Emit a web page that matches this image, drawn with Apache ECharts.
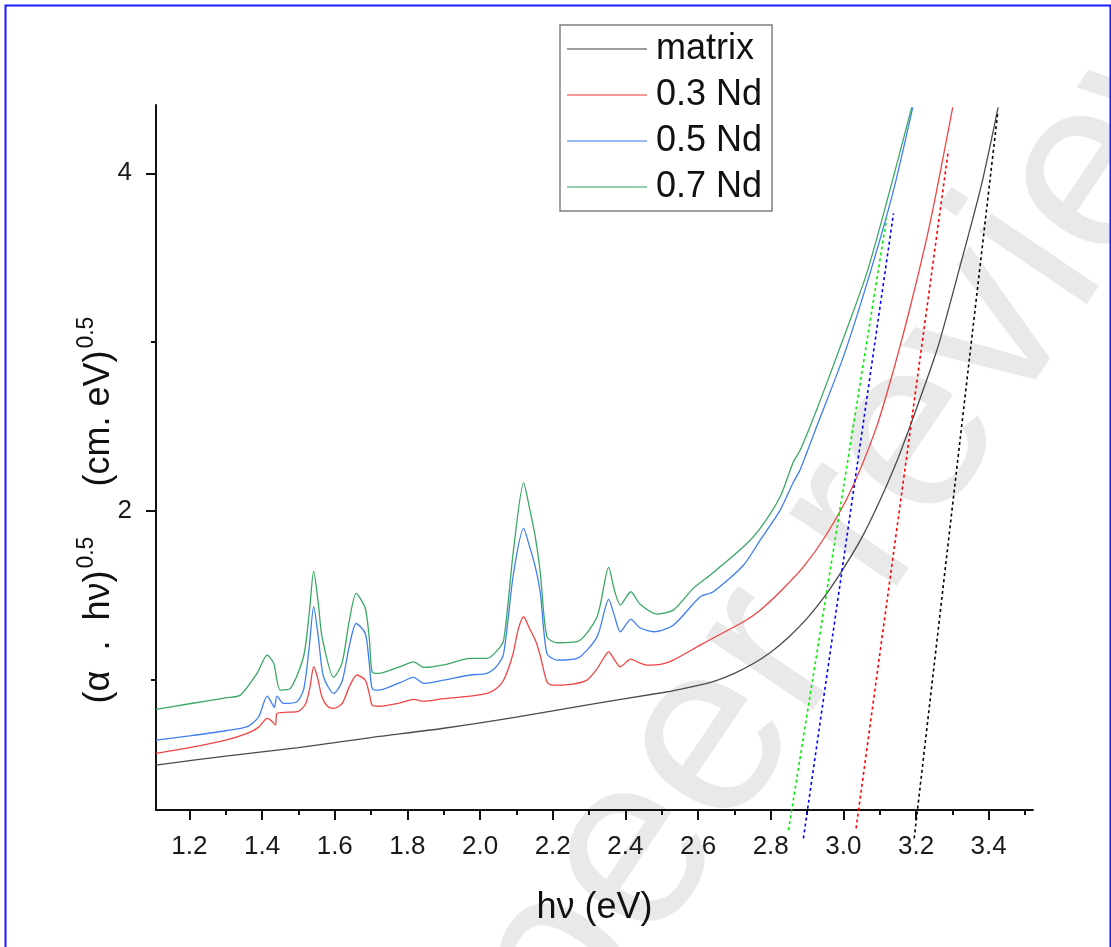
<!DOCTYPE html>
<html>
<head>
<meta charset="utf-8">
<script src="https://cdn.jsdelivr.net/npm/echarts@6/dist/echarts.min.js"></script>
<style>
  html, body { margin: 0; padding: 0; background: #fff; }
  #chart { width: 1111px; height: 947px; }
</style>
</head>
<body>
<div id="chart"></div>
<script>
// photon energy (eV) and (alpha.hv)^0.5
var matrixX = [1.108, 1.3, 1.5, 1.7, 1.9, 2.1, 2.3, 2.5, 2.55, 2.6, 2.65, 2.7, 2.75, 2.8, 2.85, 2.9, 2.95, 3.0, 3.05, 3.1, 3.15, 3.2, 3.26, 3.32, 3.38, 3.426];
var matrixY = [0.497, 0.55, 0.6, 0.66, 0.715, 0.781, 0.855, 0.925, 0.945, 0.968, 0.997, 1.04, 1.095, 1.165, 1.255, 1.365, 1.5, 1.66, 1.84, 2.06, 2.31, 2.6, 2.97, 3.44, 3.93, 4.39];

var nd3X = [1.108, 1.2, 1.3, 1.359, 1.39, 1.414, 1.425, 1.437, 1.441, 1.47, 1.5, 1.52, 1.532, 1.542, 1.552, 1.565, 1.58, 1.597, 1.62, 1.64, 1.661, 1.684, 1.695, 1.703, 1.72, 1.78, 1.817, 1.845, 1.9, 1.973, 2.019, 2.045, 2.065, 2.09, 2.105, 2.12, 2.135, 2.152, 2.165, 2.184, 2.198, 2.25, 2.294, 2.32, 2.34, 2.354, 2.37, 2.386, 2.415, 2.44, 2.459, 2.5, 2.532, 2.606, 2.66, 2.725, 2.771, 2.826, 2.89, 2.95, 3.018, 3.09, 3.14, 3.19, 3.24, 3.301];
var nd3Y = [0.566, 0.6, 0.645, 0.685, 0.72, 0.773, 0.76, 0.734, 0.803, 0.81, 0.815, 0.86, 0.96, 1.079, 1.02, 0.9, 0.845, 0.833, 0.86, 0.96, 1.03, 1.0, 0.92, 0.852, 0.845, 0.865, 0.886, 0.875, 0.89, 0.905, 0.921, 0.95, 1.0, 1.15, 1.3, 1.375, 1.31, 1.237, 1.15, 0.99, 0.97, 0.975, 1.0, 1.06, 1.13, 1.167, 1.12, 1.079, 1.124, 1.1, 1.089, 1.095, 1.118, 1.207, 1.27, 1.345, 1.414, 1.523, 1.67, 1.85, 2.11, 2.49, 2.85, 3.26, 3.72, 4.39];

var nd5X = [1.108, 1.2, 1.3, 1.359, 1.39, 1.414, 1.425, 1.434, 1.441, 1.459, 1.496, 1.515, 1.53, 1.542, 1.555, 1.569, 1.597, 1.62, 1.64, 1.659, 1.684, 1.695, 1.703, 1.72, 1.78, 1.817, 1.845, 1.9, 1.973, 2.019, 2.045, 2.065, 2.092, 2.12, 2.135, 2.152, 2.166, 2.184, 2.212, 2.267, 2.322, 2.354, 2.37, 2.386, 2.415, 2.44, 2.478, 2.532, 2.606, 2.642, 2.725, 2.771, 2.826, 2.862, 2.88, 2.93, 3.0, 3.073, 3.138, 3.191];
var nd5Y = [0.645, 0.67, 0.70, 0.724, 0.78, 0.905, 0.87, 0.838, 0.905, 0.862, 0.872, 0.95, 1.2, 1.434, 1.25, 1.02, 0.921, 0.99, 1.2, 1.335, 1.276, 1.1, 0.951, 0.94, 0.985, 1.016, 0.98, 1.0, 1.03, 1.04, 1.08, 1.158, 1.631, 1.898, 1.8, 1.67, 1.513, 1.158, 1.118, 1.128, 1.256, 1.478, 1.38, 1.286, 1.359, 1.31, 1.286, 1.325, 1.493, 1.523, 1.68, 1.828, 2.006, 2.17, 2.24, 2.52, 2.913, 3.406, 3.899, 4.39];

var nd7X = [1.108, 1.2, 1.3, 1.34, 1.386, 1.414, 1.432, 1.45, 1.478, 1.514, 1.53, 1.542, 1.555, 1.565, 1.597, 1.62, 1.64, 1.659, 1.684, 1.695, 1.703, 1.72, 1.78, 1.817, 1.845, 1.9, 1.973, 2.019, 2.045, 2.065, 2.092, 2.12, 2.135, 2.152, 2.166, 2.184, 2.212, 2.267, 2.322, 2.354, 2.37, 2.386, 2.415, 2.44, 2.487, 2.532, 2.587, 2.633, 2.725, 2.771, 2.826, 2.862, 2.881, 2.93, 2.991, 3.064, 3.128, 3.188];
var nd7Y = [0.827, 0.86, 0.895, 0.911, 1.04, 1.148, 1.099, 0.941, 0.951, 1.138, 1.4, 1.645, 1.45, 1.256, 1.016, 1.1, 1.35, 1.513, 1.424, 1.25, 1.049, 1.04, 1.08, 1.108, 1.075, 1.09, 1.128, 1.128, 1.17, 1.237, 1.769, 2.167, 2.03, 1.848, 1.631, 1.256, 1.221, 1.227, 1.375, 1.667, 1.53, 1.444, 1.523, 1.45, 1.391, 1.414, 1.543, 1.621, 1.789, 1.898, 2.085, 2.29, 2.36, 2.62, 2.97, 3.406, 3.899, 4.39];

// linear extrapolations to the energy axis (band gap)
var matrixFitX = [3.195, 3.425];
var matrixFitY = [0.063, 4.36];
var nd3FitX = [3.035, 3.289];
var nd3FitY = [0.122, 4.136];
var nd5FitX = [2.890, 3.138];
var nd5FitY = [0.063, 3.762];
var nd7FitX = [2.849, 3.119];
var nd7FitY = [0.112, 3.732];

var xMajor = [1.2, 1.4, 1.6, 1.8, 2.0, 2.2, 2.4, 2.6, 2.8, 3.0, 3.2, 3.4];
var xMinor = [1.3, 1.5, 1.7, 1.9, 2.1, 2.3, 2.5, 2.7, 2.9, 3.1, 3.3, 3.5];
var yMajor = [2, 4];
var yMinor = [1, 3];

var FONT = "'Liberation Sans', Arial, sans-serif";

function pairs(xs, ys) {
    return xs.map(function (x, i) { return [x, ys[i]]; });
}

function curve(name, xs, ys, color) {
    return {name: name, type: 'line', data: pairs(xs, ys), showSymbol: false, symbol: 'none',
        smooth: 0.25, lineStyle: {color: color, width: 1.3}, itemStyle: {color: color}, z: 3};
}

function fit(name, xs, ys, color) {
    return {name: name, type: 'line', data: pairs(xs, ys), showSymbol: false, symbol: 'none', clip: false,
        lineStyle: {color: color, width: 1.6, type: [3, 3]}, itemStyle: {color: color}, z: 4};
}

var chart = echarts.init(document.getElementById('chart'));

var gridBox = {left: 156, right: 78, top: 105, bottom: 137};
var xr = {min: 1.108, max: 3.522};
var yr = {min: 0.231, max: 4.404};

var option = {
    animation: false,
    backgroundColor: '#ffffff',
    grid: [
        Object.assign({containLabel: false}, gridBox),
        Object.assign({containLabel: false}, gridBox)
    ],
    xAxis: [
        {type: 'value', gridIndex: 0, min: xr.min, max: xr.max, name: 'hν (eV)', nameLocation: 'middle', nameGap: 80,
            nameTextStyle: {fontSize: 36, color: '#111', fontFamily: FONT},
            axisLine: {show: true, onZero: false, lineStyle: {color: '#111', width: 2}},
            axisTick: {show: true, customValues: xMajor, length: 10, lineStyle: {color: '#111', width: 2}},
            axisLabel: {customValues: xMajor, margin: 24, fontSize: 26, color: '#1a1a1a', fontFamily: FONT,
                formatter: function (v) { return v.toFixed(1); }},
            splitLine: {show: false}},
        {type: 'value', gridIndex: 1, min: xr.min, max: xr.max,
            axisLine: {show: false},
            axisTick: {show: true, customValues: xMinor, length: 5, lineStyle: {color: '#111', width: 2}},
            axisLabel: {show: false}, splitLine: {show: false}}
    ],
    yAxis: [
        {type: 'value', gridIndex: 0, min: yr.min, max: yr.max,
            axisLine: {show: true, onZero: false, lineStyle: {color: '#111', width: 2}},
            axisTick: {show: true, customValues: yMajor, length: 10, lineStyle: {color: '#111', width: 2}},
            axisLabel: {customValues: yMajor, margin: 24, fontSize: 26, color: '#1a1a1a', fontFamily: FONT},
            splitLine: {show: false}},
        {type: 'value', gridIndex: 1, min: yr.min, max: yr.max,
            axisLine: {show: false},
            axisTick: {show: true, customValues: yMinor, length: 5, lineStyle: {color: '#111', width: 2}},
            axisLabel: {show: false}, splitLine: {show: false}}
    ],
    legend: {
        data: ['matrix', '0.3 Nd', '0.5 Nd', '0.7 Nd'],
        orient: 'vertical', left: 560, top: 25, icon: 'rect', itemWidth: 80, itemHeight: 2, itemGap: 10,
        padding: [6, 10, 6, 7], borderColor: '#808080', borderWidth: 1.5, backgroundColor: '#fff',
        itemStyle: {opacity: 0.55},
        textStyle: {fontSize: 36, color: '#111', fontFamily: FONT, padding: [0, 0, 0, 4]}
    },
    graphic: [
        {type: 'rect', left: 3, top: 3, z: 100, silent: true,
            shape: {width: 1105, height: 960}, style: {fill: 'none', stroke: '#1a1aff', lineWidth: 2}},
        {type: 'text', x: 873, y: 500, rotation: 56 * Math.PI / 180, z: -10, silent: true,
            style: {text: 'peer review', fontSize: 245, fontFamily: FONT, fill: '#e9e9e9', align: 'center', verticalAlign: 'middle'}},
        {type: 'text', x: 96, y: 510, rotation: Math.PI / 2, silent: true,
            style: {text: '{n|(α  .  hν)}{s|0.5}{n|     (cm. eV)}{s|0.5}', align: 'center', verticalAlign: 'middle',
                rich: {n: {fontSize: 36, fill: '#111', fontFamily: FONT, lineHeight: 42, verticalAlign: 'bottom'},
                    s: {fontSize: 23, fill: '#111', fontFamily: FONT, lineHeight: 42, verticalAlign: 'top', padding: [0, 0, 0, 2]}}}}
    ],
    series: [
        curve('matrix', matrixX, matrixY, '#4a4a4a'),
        curve('0.3 Nd', nd3X, nd3Y, '#f04545'),
        curve('0.5 Nd', nd5X, nd5Y, '#3f7ff0'),
        curve('0.7 Nd', nd7X, nd7Y, '#3aa864'),
        fit('matrix fit', matrixFitX, matrixFitY, '#000000'),
        fit('0.3 Nd fit', nd3FitX, nd3FitY, '#ff0000'),
        fit('0.5 Nd fit', nd5FitX, nd5FitY, '#0000ff'),
        fit('0.7 Nd fit', nd7FitX, nd7FitY, '#00ee00')
    ]
};

chart.setOption(option);
</script>
</body>
</html>
